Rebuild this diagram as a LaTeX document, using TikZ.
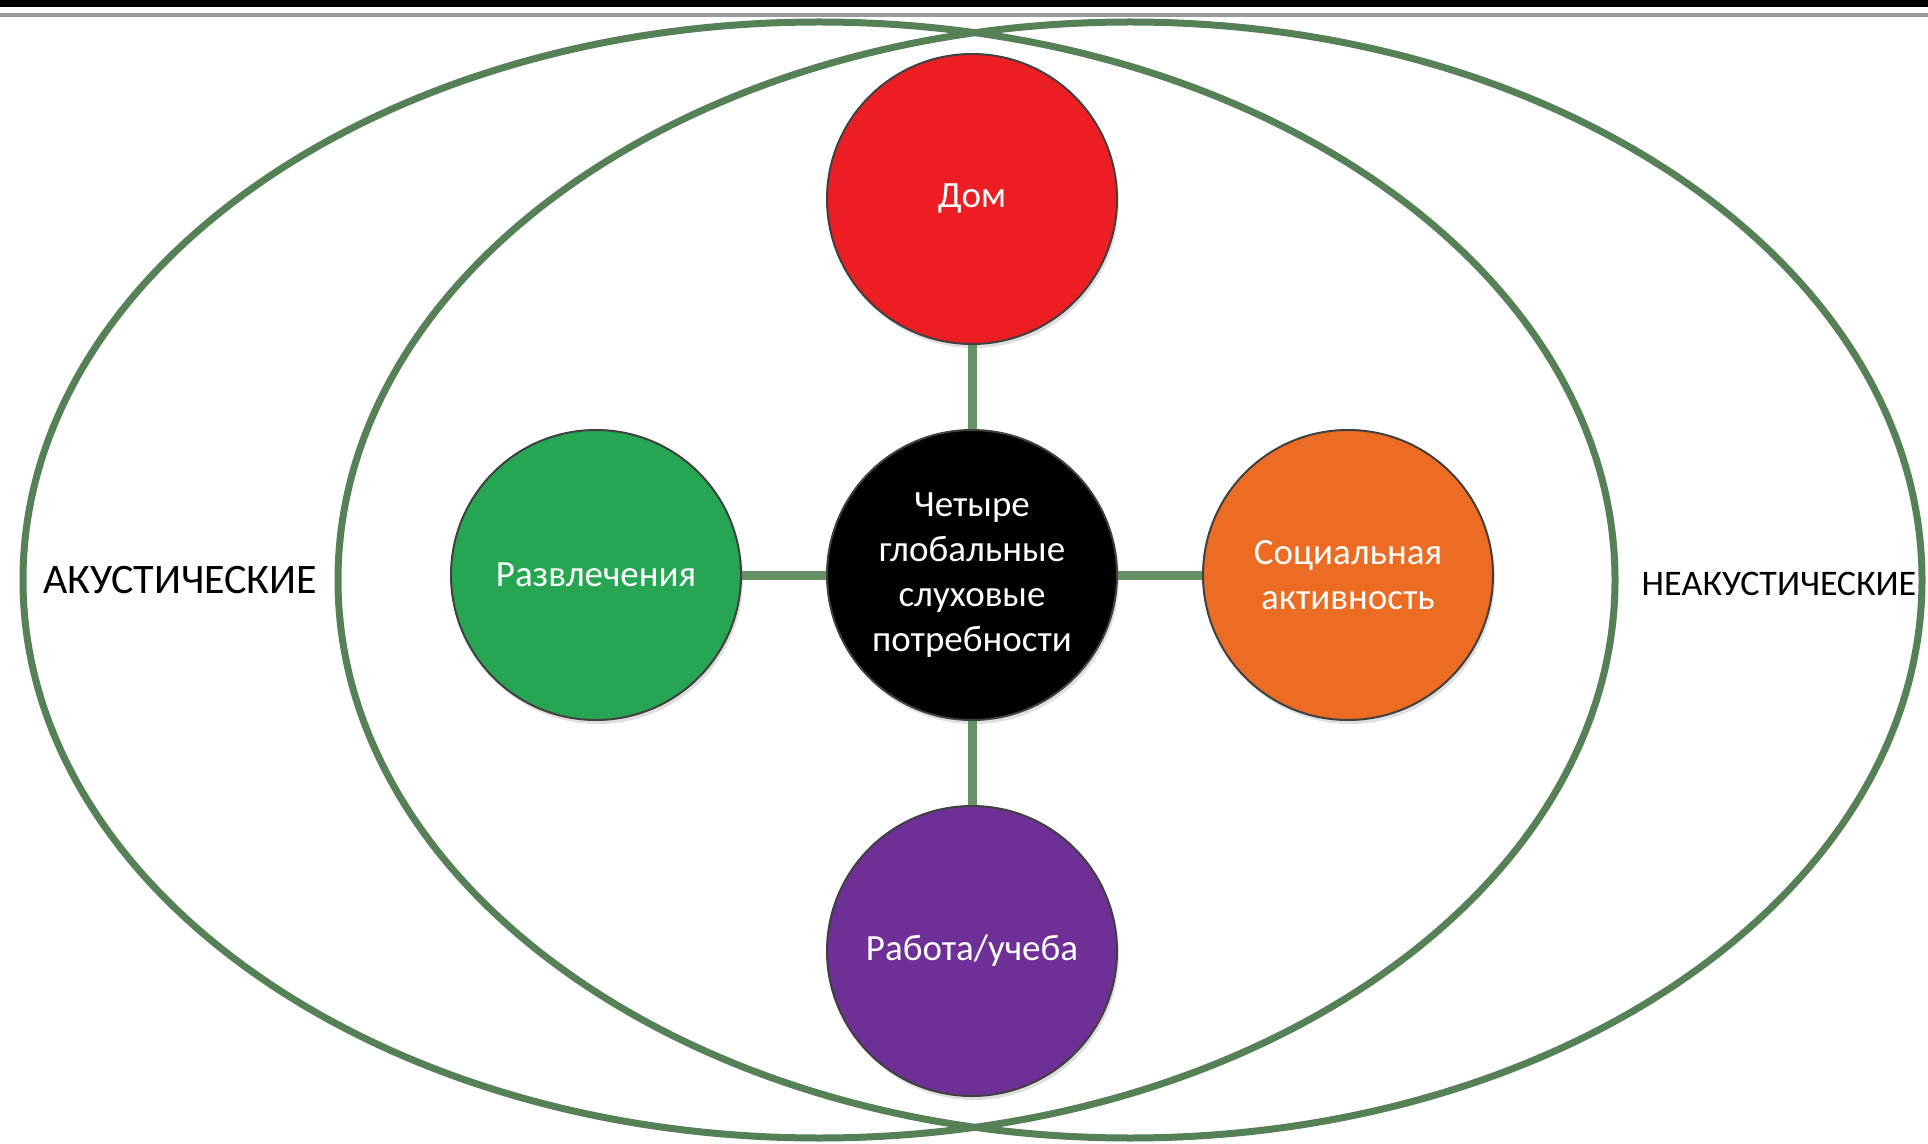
\documentclass[tikz,border=0pt]{standalone}
\usepackage{fontspec}
\setmainfont{Carlito}
\usetikzlibrary{positioning, shadows}
\definecolor{homered}{RGB}{236,30,36}
\definecolor{fungreen}{RGB}{38,166,82}
\definecolor{socorange}{RGB}{235,108,34}
\definecolor{workpurple}{RGB}{110,48,150}
\definecolor{ringgreen}{RGB}{86,128,86}
\definecolor{linkgreen}{RGB}{100,146,100}

\begin{document}
\begin{tikzpicture}[x=0.5pt, y=-0.5pt, node distance=42pt,
  need/.style={circle, minimum size=145pt, inner sep=0pt, draw=black!75, line width=1pt,
    text=white, align=center, font=\fontsize{18.5}{22.5}\selectfont,
    drop shadow={opacity=0.25, shadow xshift=1pt, shadow yshift=-2pt}},
  side/.style={text=black, inner sep=0pt},
  link/.style={linkgreen, line width=4.5pt},
  ring/.style={ringgreen, line width=3.5pt}]
  % page and top rule
  \fill[white] (0,0) rectangle (1928,1144);
  \fill[black] (0,0) rectangle (1928,7);
  \fill[black!40] (0,13) rectangle (1928,17);

  % the two fields
  \draw[ring] (819,580) ellipse [x radius=398pt, y radius=279pt];
  \draw[ring] (1130,580) ellipse [x radius=396pt, y radius=279pt];

  \node[side, font=\fontsize{21}{25}\selectfont]  (acoustic)  at (180,580)  {АКУСТИЧЕСКИЕ};
  \node[side, font=\fontsize{18}{22}\selectfont]  (nonacoustic)  at (1779,584)  {НЕАКУСТИЧЕСКИЕ};

  % needs
  \node[need, fill=black]  (hub)  at (972,575)  {Четыре\\глобальные\\слуховые\\потребности};
  \node[need, fill=homered, above = of hub]  (home)  {Дом};
  \node[need, fill=workpurple, below = of hub]  (work)  {Работа/учеба};
  \node[need, fill=fungreen, left = of hub]  (fun)  {Развлечения};
  \node[need, fill=socorange, right = of hub]  (social)  {Социальная\\активность};

  \draw[link] (home) -- (hub);
  \draw[link] (work) -- (hub);
  \draw[link] (fun) -- (hub);
  \draw[link] (social) -- (hub);
\end{tikzpicture}
\end{document}
